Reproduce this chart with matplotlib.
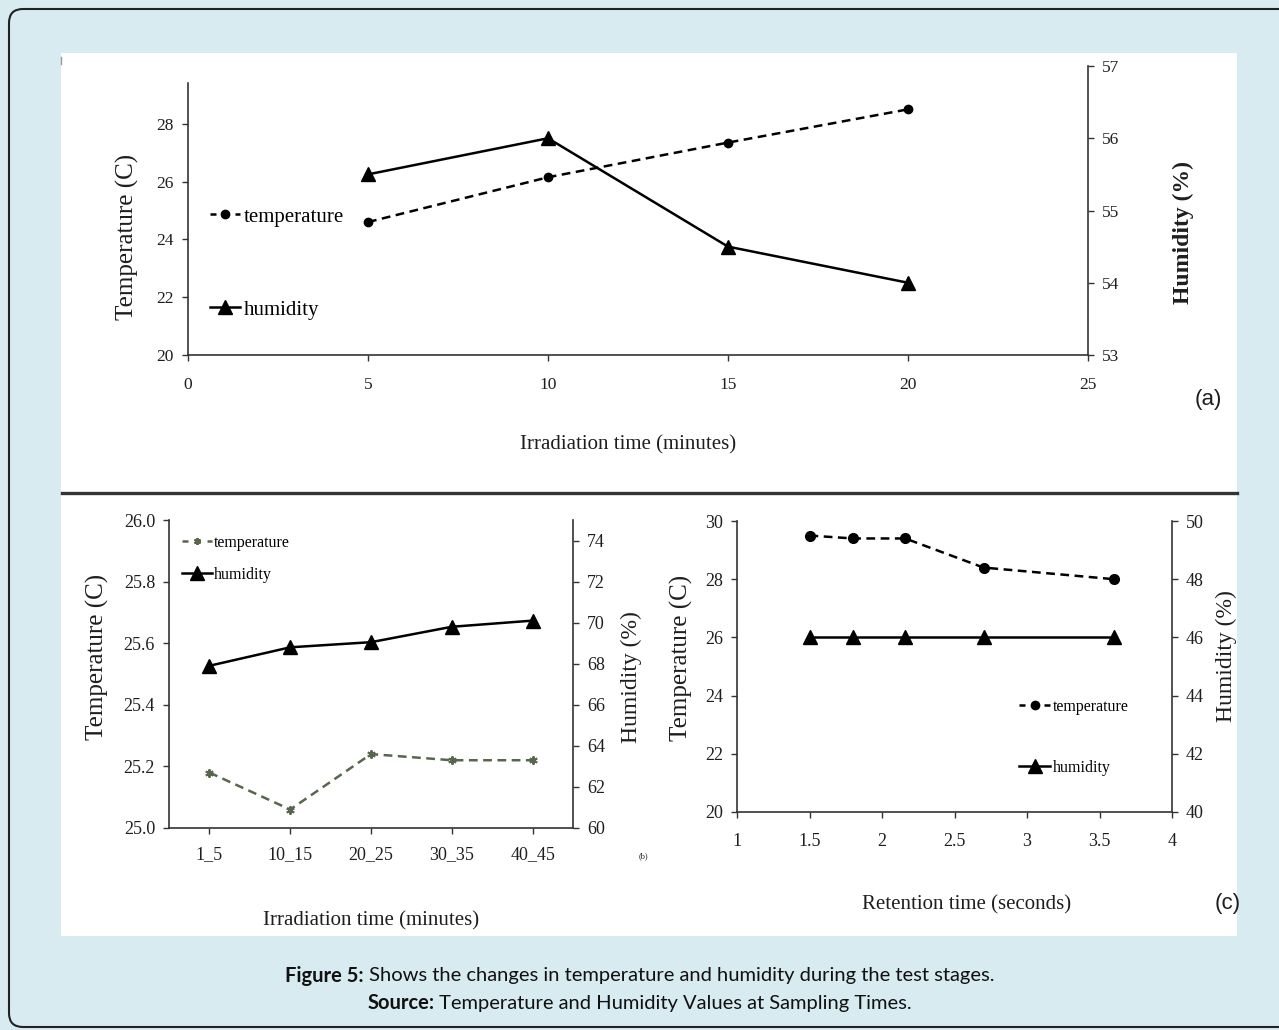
import numpy as np
import matplotlib
matplotlib.use('Agg')
import matplotlib.pyplot as plt
from matplotlib.patches import Rectangle, FancyBboxPatch
from matplotlib.lines import Line2D
from matplotlib.transforms import IdentityTransform

# ---- data ----
# (a) irradiation time vs temperature / humidity
time_a = [5, 10, 15, 20]
temp_a = [24.6, 26.15, 27.35, 28.5]
hum_a = [55.5, 56.0, 54.5, 54.0]

# (b) irradiation time windows
cats_b = ['1_5', '10_15', '20_25', '30_35', '40_45']
temp_b = [25.18, 25.06, 25.24, 25.22, 25.22]
hum_b = [67.9, 68.8, 69.05, 69.8, 70.1]

# (c) retention time
ret_c = [1.5, 1.8, 2.16, 2.7, 3.6]
temp_c = [29.5, 29.4, 29.4, 28.4, 28.0]
hum_c = [46, 46, 46, 46, 46]
xticks_c = [1, 1.5, 2, 2.5, 3, 3.5, 4]
xticklabels_c = ['1', '1.5', '2', '2.5', '3', '3.5', '4']

W, H = 1279, 1030
SERIF = 'Liberation Serif'
NARROW = ['Liberation Sans Narrow', 'Liberation Sans', 'DejaVu Sans']
CAPFONT = ['Lato', 'DejaVu Sans']
INK = '#1e1e1e'
SPINE = '#333333'
DASH = (0, (3.5, 2.2))

plt.rcParams['font.family'] = SERIF
plt.rcParams['axes.linewidth'] = 1.2

fig = plt.figure(figsize=(W / 100, H / 100), dpi=100)
fig.patch.set_facecolor('#d8ebf1')


def box(x0, y0, x1, y1):
    # pixel box (image coords, y down) -> figure fraction rect
    return [x0 / W, 1 - y1 / H, (x1 - x0) / W, (y1 - y0) / H]


def fx(x):
    return x / W


def fy(y):
    return 1 - y / H


# outer rounded frame (right/bottom cropped in the original)
frame = FancyBboxPatch((9, 3), 1320, 1018, boxstyle='round,pad=0,rounding_size=14',
                       transform=IdentityTransform(), facecolor='none',
                       edgecolor='#222222', lw=1.5)
fig.add_artist(frame)

# white image panel
fig.add_artist(Rectangle((fx(61), fy(936)), (1237 - 61) / W, (936 - 53) / H,
                         transform=fig.transFigure, facecolor='white',
                         edgecolor='none', zorder=0))
fig.add_artist(Line2D([fx(62), fx(1237)], [fy(493), fy(493)],
                      transform=fig.transFigure, color='#333333', lw=2.4))
fig.add_artist(Line2D([fx(61.5), fx(61.5)], [fy(57), fy(64)],
                      transform=fig.transFigure, color='#999999', lw=1))


def style_axes(ax, ax2, fs, xpad):
    ax.spines['top'].set_visible(False)
    ax.spines['right'].set_visible(False)
    ax2.spines['top'].set_visible(False)
    ax2.spines['left'].set_visible(False)
    ax2.spines['bottom'].set_visible(False)
    for a in (ax, ax2):
        for s in a.spines.values():
            s.set_color(SPINE)
        a.tick_params(axis='both', direction='out', length=4, width=1,
                      color=SPINE, labelcolor=INK, labelsize=fs, pad=6)
        a.set_facecolor('none')
    ax.tick_params(axis='x', pad=xpad)


def row_legend(handle, label, x, y, fs, hl):
    fig.legend([handle], [label], loc='center left',
               bbox_to_anchor=(fx(x), fy(y)), bbox_transform=fig.transFigure,
               frameon=False, borderpad=0, borderaxespad=0,
               handlelength=hl, handletextpad=0.15, numpoints=1,
               prop={'family': SERIF, 'size': fs})


def temp_proxy(color, marker, ms, mew=1.0):
    return Line2D([], [], color=color, lw=1.8, ls=(0, (2.4, 2.6)),
                  marker=marker, ms=ms, mew=mew)


# ---------------- (a) ----------------
ax = fig.add_axes(box(188, 66, 1088, 355))
ax2 = ax.twinx()
ax.plot(time_a, temp_a, color='black', lw=1.8, ls=DASH, marker='o', ms=6)
ha, = ax2.plot(time_a, hum_a, color='black', lw=1.8, marker='^', ms=10)
ax.set_xlim(0, 25)
ax.set_ylim(20, 30)
ax2.set_ylim(53, 57)
ax.set_xticks(np.arange(0, 26, 5))
ax.set_yticks(np.arange(20, 29, 2))
ax2.set_yticks(np.arange(53, 58, 1))
style_axes(ax, ax2, 12.5, 12)
ax.spines['left'].set_bounds(20, 29.4)
row_legend(temp_proxy('black', 'o', 6), 'temperature', 210, 217, 15, 1.45)
row_legend(ha, 'humidity', 210, 310, 15, 1.45)
fig.text(fx(127), fy(237), 'Temperature (C)', rotation=90, ha='center',
         va='center', fontsize=18, color=INK)
fig.text(fx(1183), fy(232), 'Humidity (%)', rotation=90, ha='center',
         va='center', fontsize=17, fontweight='bold', color=INK)
fig.text(fx(628), fy(445), 'Irradiation time (minutes)', ha='center',
         va='center', fontsize=15, color=INK)
fig.text(fx(1208), fy(400), '(a)', ha='center', va='center', fontsize=16,
         family=NARROW, color=INK)

# ---------------- (b) ----------------
bx = fig.add_axes(box(169, 520, 573, 828))
bx2 = bx.twinx()
xb = np.arange(len(cats_b))
bx.plot(xb, temp_b, color='#59664f', lw=1.8, ls=DASH,
        marker=(6, 2, 0), ms=6, mew=1.4)
hb, = bx2.plot(xb, hum_b, color='black', lw=1.8, marker='^', ms=10)
bx.set_xlim(-0.5, 4.5)
bx.set_ylim(25.0, 26.0)
bx2.set_ylim(60, 75)
bx.set_xticks(xb)
bx.set_xticklabels(cats_b)
bx.set_yticks(np.arange(25.0, 26.01, 0.2))
bx.set_yticklabels(['%.1f' % v for v in np.arange(25.0, 26.01, 0.2)])
bx2.set_yticks(np.arange(60, 75, 2))
style_axes(bx, bx2, 13, 9)
row_legend(temp_proxy('#59664f', (6, 2, 0), 5, 1.4), 'temperature', 182, 543, 11.5, 1.85)
row_legend(hb, 'humidity', 182, 575, 11.5, 1.85)
fig.text(fx(97), fy(657), 'Temperature (C)', rotation=90, ha='center',
         va='center', fontsize=18, color=INK)
fig.text(fx(631), fy(677), 'Humidity (%)', rotation=90, ha='center',
         va='center', fontsize=17, color=INK)
fig.text(fx(371), fy(921), 'Irradiation time (minutes)', ha='center',
         va='center', fontsize=15, color=INK)
fig.text(fx(643), fy(856), '(b)', ha='center', va='center', fontsize=6,
         color=INK)

# ---------------- (c) ----------------
cx = fig.add_axes(box(737, 521, 1172, 812))
cx2 = cx.twinx()
cx.plot(ret_c, temp_c, color='black', lw=1.8, ls=DASH, marker='o', ms=7)
hc, = cx2.plot(ret_c, hum_c, color='black', lw=1.8, marker='^', ms=10)
cx.set_xlim(1, 4)
cx.set_ylim(20, 30)
cx2.set_ylim(40, 50)
cx.set_xticks(xticks_c)
cx.set_xticklabels(xticklabels_c)
cx.set_yticks(np.arange(20, 31, 2))
cx2.set_yticks(np.arange(40, 51, 2))
style_axes(cx, cx2, 13, 11)
row_legend(temp_proxy('black', 'o', 6), 'temperature', 1019, 707, 11.5, 1.95)
row_legend(hc, 'humidity', 1019, 768, 11.5, 1.95)
fig.text(fx(681), fy(658), 'Temperature (C)', rotation=90, ha='center',
         va='center', fontsize=18, color=INK)
fig.text(fx(1226), fy(656), 'Humidity (%)', rotation=90, ha='center',
         va='center', fontsize=17, color=INK)
fig.text(fx(967), fy(905), 'Retention time (seconds)', ha='center',
         va='center', fontsize=15, color=INK)
fig.text(fx(1228), fy(903), '(c)', ha='center', va='center', fontsize=16,
         family=NARROW, color=INK)

# ---------------- caption ----------------
renderer = fig.canvas.get_renderer()


def caption(y, bold, rest, fs=14.5):
    t1 = fig.text(0, fy(y), bold, fontweight='bold', fontsize=fs,
                  family=CAPFONT, va='center', color='#111111')
    t2 = fig.text(0, fy(y), rest, fontsize=fs, family=CAPFONT,
                  va='center', color='#111111')
    w1 = t1.get_window_extent(renderer).width
    w2 = t2.get_window_extent(renderer).width
    x0 = (W - (w1 + w2)) / 2
    t1.set_x(fx(x0))
    t2.set_x(fx(x0 + w1))


caption(976, 'Figure 5:', ' Shows the changes in temperature and humidity during the test stages.')
caption(1003, 'Source:', ' Temperature and Humidity Values at Sampling Times.')

fig.savefig('out.png', dpi=100, facecolor=fig.get_facecolor())
